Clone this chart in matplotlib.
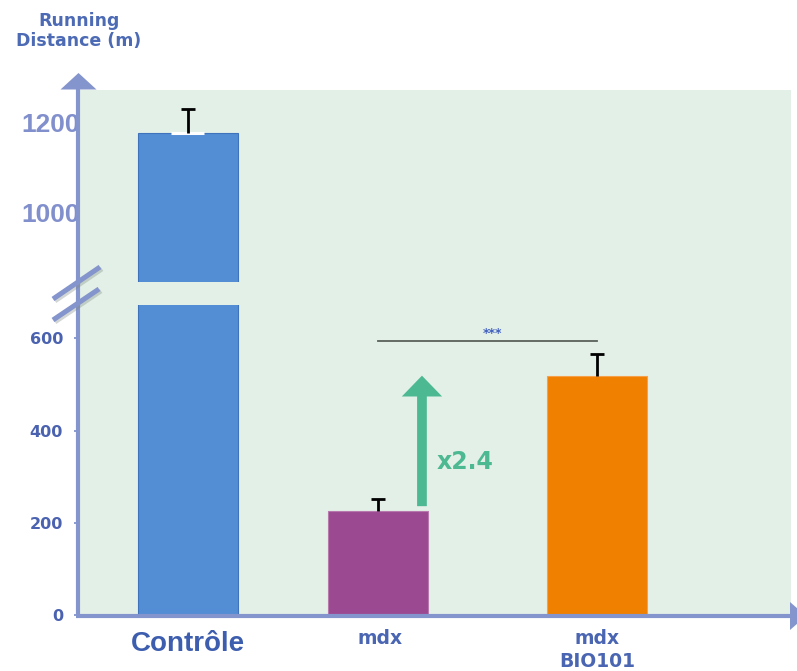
import matplotlib
matplotlib.use("Agg")
import matplotlib.pyplot as plt
from matplotlib.patches import Rectangle, Polygon, FancyArrowPatch
from matplotlib.transforms import blended_transform_factory

# ---- data ----
groups = ["Contrôle", "mdx", "mdx\nBIO101"]
distance = [1178, 226, 519]          # running distance (m)
distance_err = [53, 25, 48]          # upper error (m)
fold_label = "x2.4"
signif_label = "***"
signif_level = 594
low_ticks = [0, 200, 400, 600]
high_ticks = [1000, 1200]

# ---- styling ----
W, H = 797, 671
BG = "#e3f0e8"
AXIS = "#8494cc"
BAR_COLORS = ["#538dd4", "#9b4a91", "#f08000"]
BAR_EDGES = ["#3f74bd", "#b778ad", "#f7a04a"]
GREEN = "#4cb993"
LABEL_BLUE = "#4a66b3"

fig = plt.figure(figsize=(W / 100, H / 100), dpi=100)


def px_axes(left, top, right, bottom, z):
    ax = fig.add_axes([left / W, 1 - bottom / H, (right - left) / W, (bottom - top) / H])
    ax.set_zorder(z)
    return ax


# background panel
bg = px_axes(0, 0, W, H, 0)
bg.set_xlim(0, W)
bg.set_ylim(H, 0)
bg.axis("off")
bg.add_patch(Rectangle((80, 90), 710.7, 525, facecolor=BG, edgecolor="none"))

# horizontal layout: one category step = 190 px, first bar centred at 187.5 px
x0_px, step_px = 187.5, 190.0
x_pos = [0.0, 1.0, (597 - x0_px) / step_px]
bar_w = 100 / step_px
cap_half = 7 / step_px
ax_left, ax_right = 78, 790
xlim = ((ax_left - x0_px) / step_px, (ax_right - x0_px) / step_px)

# lower segment: 0 at 615 px, 600 at 338.3 px
low_scale = (615 - 338.3) / 600
low_top = 305
lower = px_axes(ax_left, low_top, ax_right, 615, 1)
lower.set_ylim(0, (615 - low_top) / low_scale)

# upper segment: 1200 at 123 px, 1000 at 212 px
up_scale = (212 - 123) / 200
up_top, up_bot = 90, 282
upper = px_axes(ax_left, up_top, ax_right, up_bot, 1)
upper.set_ylim(1200 - (up_bot - 123) / up_scale, 1200 + (123 - up_top) / up_scale)

tops = [v + e for v, e in zip(distance, distance_err)]
for ax in (lower, upper):
    ax.set_facecolor("none")
    ax.set_xlim(*xlim)
    for s in ax.spines.values():
        s.set_visible(False)
    ax.set_xticks([])
    ax.bar(x_pos, distance, width=bar_w, color=BAR_COLORS, edgecolor=BAR_EDGES,
           linewidth=0.8, zorder=2)
    # one-sided error bars (upper only)
    ax.vlines(x_pos, distance, tops, color="black", lw=2.0, zorder=4)
    ax.hlines(tops, [x - cap_half for x in x_pos], [x + cap_half for x in x_pos],
              color="black", lw=2.0, zorder=4)

# light notch at the top of the control bar around its error bar
upper.hlines(distance[0], x_pos[0] - 0.085, x_pos[0] + 0.085, color="white", lw=2.2, zorder=3)

lower.set_yticks(low_ticks)
lower.set_yticklabels([str(t) for t in low_ticks], fontfamily="DejaVu Sans",
                      fontweight="bold", fontsize=11.5, color="#4a62b0")
lower.tick_params(axis="y", length=3.2, width=1.3, color=AXIS, pad=7.5)

upper.set_yticks(high_ticks)
upper.set_yticklabels([str(t) for t in high_ticks], fontfamily="Liberation Sans",
                      fontweight="bold", fontsize=19, color="#8190cc")
upper.tick_params(axis="y", length=0, pad=-1.6)

# significance bracket
lower.plot([x_pos[1], x_pos[2]], [signif_level, signif_level], color="#5a5f5a", lw=1.3, zorder=3)
lower.annotate(signif_label, xy=((x_pos[1] + x_pos[2]) / 2 + 0.03, signif_level),
               xytext=(0, 1), textcoords="offset points", ha="center", va="bottom",
               fontsize=9, fontweight="bold", color="#4060c0")

# fold-change arrow from mdx to mdx + BIO101
arrow_x = x_pos[1] + 0.234
lower.add_patch(FancyArrowPatch((arrow_x, distance[1] + 10), (arrow_x, distance[2]),
                                arrowstyle="simple,head_length=15,head_width=29,tail_width=7",
                                mutation_scale=1, shrinkA=0, shrinkB=0,
                                color=GREEN, linewidth=0, zorder=3))
lower.text(arrow_x + 0.078, 332, fold_label, ha="left", va="center", fontsize=17,
           fontweight="bold", fontfamily="DejaVu Sans", color=GREEN)

# axis lines, arrowheads and break marks on top
deco = px_axes(0, 0, W, H, 5)
deco.set_facecolor("none")
deco.set_xlim(0, W)
deco.set_ylim(H, 0)
deco.axis("off")
deco.plot([78, 78], [615, 86], color=AXIS, lw=3.0, solid_capstyle="butt")
deco.add_patch(Polygon([(60.5, 89.5), (96.5, 89.5), (78.5, 73)], closed=True,
                       facecolor=AXIS, edgecolor="none"))
deco.plot([76, 792], [615.5, 615.5], color=AXIS, lw=3.0, solid_capstyle="butt")
deco.add_patch(Polygon([(790, 602), (790, 630), (806, 616)], closed=True,
                       facecolor=AXIS, edgecolor="none"))
for (xa, ya, xb, yb) in [(53, 299, 100, 267), (53, 320, 99, 289)]:
    deco.plot([xa + 2, xb + 2], [ya + 2, yb + 2], color="#7f8c86", lw=3.4, alpha=0.35,
              solid_capstyle="butt")
    deco.plot([xa, xb], [ya, yb], color=AXIS, lw=3.6, solid_capstyle="butt")

# axis title
deco.text(79, 31, "Running\nDistance (m)", ha="center", va="center", fontsize=12.5,
          fontweight="bold", fontfamily="DejaVu Sans", color="#4d6bb5", linespacing=1.15)

# category labels
xlab = blended_transform_factory(lower.transData, deco.transData)
deco.text(x_pos[0], 644, groups[0], transform=xlab, ha="center", va="center",
          fontsize=20, fontweight="bold", fontfamily="Liberation Sans", color="#3d5eae")
for i in (1, 2):
    deco.text(x_pos[i] + (0.013 if i == 1 else 0.0), 628.5, groups[i], transform=xlab,
              ha="center", va="top", fontsize=13.5, fontweight="bold",
              fontfamily="DejaVu Sans", color=LABEL_BLUE, linespacing=1.3,
              multialignment="center")

fig.savefig("out.png", dpi=100)
